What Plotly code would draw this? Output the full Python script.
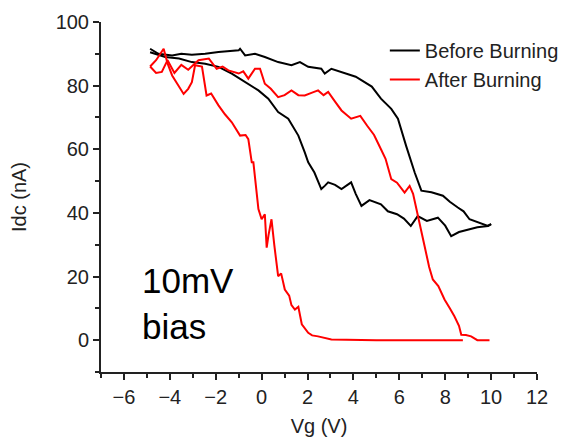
import plotly.graph_objects as go

# Idc vs Vg sweeps (Vg in V, Idc in nA)
black_a_x = [-4.86, -4.5, -3.9, -3.5, -3.04, -2.46, -1.88, -1.6, -1.0, -0.94, -0.72, -0.29, 0.14, 0.72,
             1.3, 1.67, 2.03, 2.6, 2.75, 3.04, 3.48, 4.1, 4.8, 5.2, 5.65, 5.94, 6.3, 6.67, 6.96, 7.4,
             7.9, 8.2, 8.55, 8.8, 9.06, 9.4, 9.86, 10.0]
black_a_y = [91.6, 90.0, 89.5, 90.0, 89.7, 90.0, 90.6, 90.8, 91.1, 91.6, 89.5, 90.0, 89.0, 87.4,
             86.4, 87.4, 85.9, 85.3, 83.8, 85.3, 84.3, 82.8, 79.7, 75.9, 72.7, 69.6, 61.0, 52.7, 47.0, 46.5,
             45.4, 43.5, 41.7, 40.5, 38.0, 37.2, 35.9, 36.5]

black_b_x = [-4.86, -4.2, -3.6, -3.04, -2.46, -1.88, -1.3, -0.72, -0.14, 0.29, 0.72, 1.16, 1.6, 1.88,
             2.03, 2.3, 2.6, 2.75, 2.9, 3.2, 3.48, 3.9, 4.1, 4.35, 4.7, 5.2, 5.5, 5.9, 6.2, 6.5,
             6.8, 7.2, 7.68, 8.0, 8.26, 8.6, 8.98, 9.4, 9.86, 10.0]
black_b_y = [90.5, 89.0, 88.5, 87.4, 86.9, 85.9, 83.8, 81.1, 78.5, 75.9, 71.7, 69.6, 64.3, 59.0,
             55.9, 52.7, 47.5, 48.5, 49.6, 48.8, 47.5, 49.6, 46.0, 42.2, 44.0, 42.7, 40.5, 39.6, 38.2, 35.9,
             39.0, 37.5, 38.5, 36.0, 32.7, 34.0, 34.8, 35.5, 35.9, 36.5]

red_a_x = [-4.86, -4.6, -4.27, -4.1, -3.9, -3.6, -3.4, -3.2, -3.04, -2.9, -2.6, -2.4, -2.2, -1.88,
           -1.6, -1.3, -0.94, -0.7, -0.58, -0.43, -0.36, -0.14, 0.0, 0.14, 0.22, 0.3, 0.43, 0.55, 0.72,
           0.85, 1.01, 1.2, 1.3, 1.45, 1.6, 1.75, 2.03, 2.2, 2.46, 3.04, 4.0, 5.0, 6.0, 7.0, 8.0, 8.77]
red_a_y = [86.0, 88.0, 91.6, 87.0, 83.2, 79.5, 77.4, 79.0, 81.1, 86.4, 86.0, 76.9, 77.5, 73.8,
           71.0, 68.5, 64.3, 64.5, 63.2, 55.9, 55.9, 41.2, 38.0, 39.6, 29.1, 33.0, 38.0, 30.0, 20.1,
           21.0, 15.9, 14.0, 11.0, 9.6, 10.5, 5.0, 2.3, 1.5, 1.2, 0.2, 0.0, 0.0, 0.0, 0.0, 0.0, 0.0]

red_b_x = [-4.86, -4.6, -4.35, -4.1, -3.8, -3.5, -3.2, -2.75, -2.3, -1.96, -1.7, -1.45, -1.0, -0.8,
           -0.58, -0.29, -0.07, 0.14, 0.4, 0.72, 1.0, 1.3, 1.6, 1.88, 2.2, 2.46, 2.7, 2.9, 3.2, 3.48,
           3.9, 4.3, 4.6, 4.9, 5.2, 5.4, 5.65, 5.9, 6.23, 6.45, 6.6, 6.8, 6.95, 7.1, 7.3, 7.46, 7.7,
           7.97, 8.2, 8.4, 8.6, 8.7, 8.9, 9.13, 9.4, 9.93]
red_b_y = [86.0, 84.0, 84.3, 88.0, 84.0, 86.5, 85.0, 88.0, 88.5, 85.3, 86.0, 84.8, 83.8, 84.5,
           82.2, 85.3, 85.3, 80.6, 79.0, 76.4, 77.0, 78.5, 77.0, 76.9, 77.8, 78.5, 77.0, 78.0, 75.0, 72.2,
           69.6, 70.5, 67.4, 64.5, 60.0, 57.0, 50.6, 49.5, 46.4, 48.5, 46.0, 39.0, 34.0, 29.6, 23.0, 19.1, 17.0,
           12.8, 10.0, 7.5, 4.5, 1.7, 1.6, 1.2, 0.0, 0.0]

fig = go.Figure()
line_w = 2
fig.add_trace(go.Scatter(x=black_a_x, y=black_a_y, mode='lines', name='Before Burning',
                         legendgroup='before', line=dict(color='black', width=line_w)))
fig.add_trace(go.Scatter(x=black_b_x, y=black_b_y, mode='lines', name='Before Burning',
                         legendgroup='before', showlegend=False, line=dict(color='black', width=line_w)))
fig.add_trace(go.Scatter(x=red_a_x, y=red_a_y, mode='lines', name='After Burning',
                         legendgroup='after', line=dict(color='#ff0000', width=line_w)))
fig.add_trace(go.Scatter(x=red_b_x, y=red_b_y, mode='lines', name='After Burning',
                         legendgroup='after', showlegend=False, line=dict(color='#ff0000', width=line_w)))

fig.add_annotation(x=-5.3, y=-2.5, xref='x', yref='y', text='10mV<br>bias', showarrow=False,
                   xanchor='left', yanchor='bottom', align='left',
                   font=dict(size=35, color='black'))

axis_style = dict(showgrid=False, zeroline=False, showline=True, linecolor='#222', linewidth=2,
                  ticks='outside', ticklen=6, tickwidth=1.5, tickcolor='#222', automargin=False,
                  tickfont=dict(size=20, color='#222'), mirror=False)

fig.update_xaxes(range=[-7, 12], tickvals=[-6, -4, -2, 0, 2, 4, 6, 8, 10, 12],
                 minor=dict(dtick=1, tick0=0, ticks='outside', ticklen=4, tickcolor='#222'),
                 title=dict(text='Vg (V)', font=dict(size=20, color='#222'), standoff=12),
                 **axis_style)
fig.update_yaxes(range=[-10, 100], tickvals=[0, 20, 40, 60, 80, 100],
                 minor=dict(dtick=10, tick0=0, ticks='outside', ticklen=4, tickcolor='#222'),
                 title=dict(text='Idc (nA)', font=dict(size=20, color='#222'), standoff=26),
                 **axis_style)

# the page body has an 8px margin, so the margins are shifted to compensate
fig.update_layout(
    width=569, height=440,
    margin=dict(l=93, r=40, t=14, b=76),
    plot_bgcolor='white', paper_bgcolor='white',
    font=dict(family='Liberation Sans, Arial, sans-serif', color='#222'),
    legend=dict(x=0.651, y=0.974, xanchor='left', yanchor='top', bgcolor='rgba(0,0,0,0)',
                font=dict(size=20, color='#222'), tracegroupgap=0),
)

fig.write_html("out.html")
